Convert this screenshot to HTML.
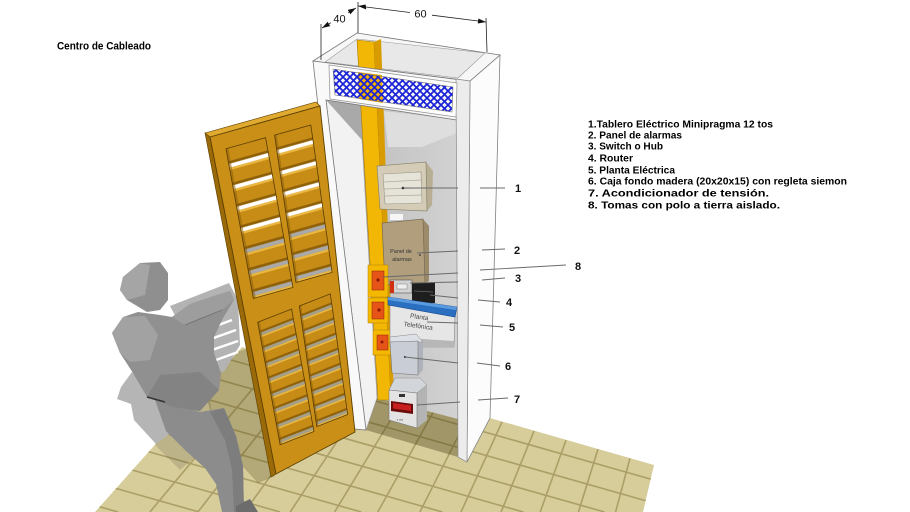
<!DOCTYPE html>
<html><head><meta charset="utf-8"><style>
html,body{margin:0;padding:0;background:#fff;width:910px;height:512px;overflow:hidden;}
svg{display:block;}
</style></head><body>
<svg width="910" height="512" viewBox="0 0 910 512" xmlns="http://www.w3.org/2000/svg" overflow="hidden">
<defs>
<clipPath id="fc"><polygon points="95,512 242,347 654,465 643,512"/></clipPath>
<pattern id="lat" width="7" height="7" patternUnits="userSpaceOnUse">
 <path d="M-1,-1 L8,8 M8,-1 L-1,8" stroke="#1a22d8" stroke-width="1.7" fill="none"/>
</pattern>
<pattern id="slU" width="100" height="14.2857" patternUnits="userSpaceOnUse">
 <rect width="100" height="14.2857" fill="#c68c16"/>
 <rect y="8.4" width="100" height="1.8" fill="#8e6008"/>
 <rect y="10.2" width="100" height="2.6" fill="#ffffff"/>
 <rect y="12.8" width="100" height="1.5" fill="#eab740"/>
</pattern>
<pattern id="slUg" width="100" height="14.2857" patternUnits="userSpaceOnUse">
 <rect width="100" height="14.2857" fill="#c68c16"/>
 <rect y="8.4" width="100" height="1.8" fill="#8e6008"/>
 <rect y="10.2" width="100" height="2.6" fill="#a9a9a9"/>
 <rect y="12.8" width="100" height="1.5" fill="#eab740"/>
</pattern>
<pattern id="slL" width="100" height="12.5" patternUnits="userSpaceOnUse">
 <rect width="100" height="12.5" fill="#c68c16"/>
 <rect y="7" width="100" height="1.8" fill="#8e6008"/>
 <rect y="8.8" width="100" height="2.4" fill="#a29f8c"/>
 <rect y="11.2" width="100" height="1.3" fill="#eab740"/>
</pattern>
<linearGradient id="bw" x1="0" y1="0" x2="1" y2="0">
 <stop offset="0" stop-color="#b9b9b9"/><stop offset="1" stop-color="#d2d2d2"/>
</linearGradient>
</defs>

<!-- FLOOR -->
<g clip-path="url(#fc)">
 <rect x="0" y="300" width="910" height="212" fill="#d7cd9b"/>
 <g stroke="#ab9e66" stroke-width="1.6">
  <line x1="278" y1="358.3" x2="149.9" y2="512"/>
  <line x1="310" y1="367.4" x2="197.9" y2="512"/>
  <line x1="342" y1="376.5" x2="244.6" y2="512"/>
  <line x1="374" y1="385.6" x2="290.2" y2="512"/>
  <line x1="406" y1="394.7" x2="334.6" y2="512"/>
  <line x1="438" y1="403.7" x2="377.8" y2="512"/>
  <line x1="470" y1="412.8" x2="419.9" y2="512"/>
  <line x1="502" y1="421.9" x2="461.0" y2="512"/>
  <line x1="534" y1="431.0" x2="501.1" y2="512"/>
  <line x1="566" y1="440.1" x2="540.2" y2="512"/>
  <line x1="598" y1="449.1" x2="578.4" y2="512"/>
  <line x1="630" y1="458.2" x2="615.6" y2="512"/>
  <line x1="80" y1="317.2" x2="700" y2="493.1"/>
  <line x1="80" y1="340.2" x2="685.6" y2="512"/>
  <line x1="80" y1="363.2" x2="604.5" y2="512"/>
  <line x1="80" y1="386.2" x2="523.4" y2="512"/>
  <line x1="80" y1="409.2" x2="442.4" y2="512"/>
  <line x1="80" y1="432.2" x2="361.3" y2="512"/>
  <line x1="80" y1="455.2" x2="280.2" y2="512"/>
  <line x1="80" y1="478.2" x2="199.1" y2="512"/>
  <line x1="80" y1="501.2" x2="118.1" y2="512"/>
 </g>
 <polygon points="200,372 242,350 262,345 275,476 258,483 218,440" fill="rgba(70,60,10,0.25)"/>
 <polygon points="150,440 180,410 210,400 215,440 180,470" fill="rgba(0,0,0,0.12)"/>
 <polygon points="360,398 377,398 458,418 458,457 366,430" fill="rgba(60,50,10,0.35)"/>
</g>

<!-- shadows on white -->
<polygon points="132,372 121,387 117,399 131,404 134,420 156,444 175,430 160,390" fill="#b5b5b5"/>
<polygon points="170,306 229,283 238,300 240,345 224,372 212,370 200,340 180,325" fill="#b3b3b3"/>
<g stroke="#ffffff" stroke-width="2.5">
 <line x1="205" y1="330" x2="232" y2="320"/>
 <line x1="208" y1="340" x2="236" y2="330"/>
 <line x1="212" y1="350" x2="238" y2="341"/>
 <line x1="216" y1="360" x2="238" y2="352"/>
</g>

<!-- CABINET -->
<polygon points="470,81 500,55 490,418 467,462" fill="#fcfcfc" stroke="#808080" stroke-width="0.8"/>
<polygon points="313,61 357,33 500,55 470,81" fill="#f7f7f7" stroke="#777" stroke-width="0.8"/>
<polygon points="325,62 357,39 485,53 458,78" fill="#e8e8e8" stroke="#999" stroke-width="0.6"/>
<polygon points="326,100 457,120 458,419 377,398" fill="url(#bw)"/>
<polygon points="384,111 457,120 457,133 422,147 388,147" fill="#dedede"/>
<polygon points="326,100 360,105 377,398 366,430" fill="#f2f2f2" stroke="#999" stroke-width="0.6"/>
<polygon points="326,100 361,105 362,140" fill="#a9a9a9"/>
<polygon points="357,40 374,42 391,400 378,400" fill="#f2b705" stroke="#a87800" stroke-width="0.6"/>
<polygon points="374,42 381,39 394,398 391,400" fill="#d99c00"/>
<polygon points="313,61 457,79.5 457,120 326,100 366,430 354,429" fill="#f9f9f9" stroke="#777" stroke-width="0.8"/>
<polygon points="456,79 470,81 467,462 458,457" fill="#ececec" stroke="#888" stroke-width="0.7"/>
<polygon points="329,65 457,83 456,117 330,99" fill="#fff" stroke="#999" stroke-width="0.8"/>
<polygon points="333,69 453,87 452,112 335,95" fill="#f4f4f4"/>
<polygon points="358,72 382,75 383,103 359,99" fill="#f0b000"/>
<polygon points="333,69 453,87 452,112 335,95" fill="url(#lat)" stroke="#777" stroke-width="0.6"/>

<!-- EQUIPMENT -->
<polygon points="426,162 433,171 432,205 427,211" fill="#b8ae94"/>
<polygon points="377,166 426,162 427,211 380,209" fill="#d4ccb6" stroke="#8a8470" stroke-width="0.7"/>
<polygon points="383,174 421,172 422,203 385,204" fill="#e6e3d8" stroke="#9a9484" stroke-width="0.6"/>
<g stroke="#b0aa98" stroke-width="0.7"><line x1="384" y1="182" x2="421" y2="180"/><line x1="384" y1="189" x2="421" y2="188"/><line x1="385" y1="196" x2="422" y2="195"/></g>
<circle cx="403" cy="188" r="1.3" fill="#222"/>
<rect x="390" y="214" width="13" height="6" fill="#f6f6f6"/>
<polygon points="423,219 429,226 429,281 425,283" fill="#9c8b6a"/>
<polygon points="382,223 423,219 425,283 385,285" fill="#b09e7d" stroke="#776a50" stroke-width="0.7"/>
<text x="401" y="253" font-family="Liberation Sans, sans-serif" font-size="5.5" fill="#333" text-anchor="middle">Panel de</text>
<text x="402" y="261" font-family="Liberation Sans, sans-serif" font-size="5.5" fill="#333" text-anchor="middle">alarmas</text>
<circle cx="420" cy="255" r="0.9" fill="#333"/>
<rect x="368" y="265" width="20" height="32" fill="#f5b800" stroke="#b08000" stroke-width="0.5"/>
<rect x="372" y="271" width="12" height="19" fill="#e65418" stroke="#902000" stroke-width="0.5"/>
<rect x="368" y="298" width="20" height="25" fill="#f5b800" stroke="#b08000" stroke-width="0.5"/>
<rect x="372" y="302" width="12" height="17" fill="#e65418" stroke="#902000" stroke-width="0.5"/>
<rect x="373" y="330" width="19" height="25" fill="#f5b800" stroke="#b08000" stroke-width="0.5"/>
<rect x="377" y="335" width="11" height="15" fill="#e65418" stroke="#902000" stroke-width="0.5"/>
<g fill="#8a1a00"><circle cx="378" cy="280" r="1.6"/><circle cx="379" cy="310" r="1.6"/><circle cx="382" cy="342" r="1.5"/></g>
<rect x="390" y="280" width="22" height="13" fill="#d2d2d2" stroke="#555" stroke-width="0.6"/>
<rect x="390" y="281" width="4" height="12" fill="#d03010"/>
<rect x="397" y="284" width="10" height="5" fill="#eee" stroke="#666" stroke-width="0.4"/>
<rect x="412" y="283" width="23" height="20" fill="#1e1e1e"/>
<line x1="414" y1="291" x2="433" y2="292" stroke="#666" stroke-width="0.7"/>
<polygon points="390,305 455,317 454,347 390,347" fill="#e6e6e6" stroke="#888" stroke-width="0.6"/>
<polygon points="390,337 454,341 454,347 390,347" fill="#b7b7b7"/>
<polygon points="388,297 457,307 455,317 388,305" fill="#2a6fc0" stroke="#174a90" stroke-width="0.6"/>
<polygon points="388,297 457,307 456,310 388,300" fill="#5a9be0"/>
<text x="419" y="319" font-family="Liberation Sans, sans-serif" font-size="6.5" fill="#444" text-anchor="middle" transform="rotate(8 419 319)">Planta</text>
<text x="418" y="328" font-family="Liberation Sans, sans-serif" font-size="6.5" fill="#444" text-anchor="middle" transform="rotate(8 418 328)">Telefónica</text>
<polygon points="418,341 423,343 423,370 418,375" fill="#aeb2ba"/>
<polygon points="390,337 416,334 423,342 390,342" fill="#dde0e6" stroke="#888" stroke-width="0.5"/>
<polygon points="390,342 418,341 418,375 392,373" fill="#c9cdd5" stroke="#777" stroke-width="0.6"/>
<circle cx="405" cy="357" r="1" fill="#222"/>
<polygon points="417,393 427,385 427,420 417,428" fill="#b4b4b4"/>
<polygon points="389,390 395,378 420,378 427,385 417,393" fill="#d2d5d9" stroke="#888" stroke-width="0.5"/>
<polygon points="389,390 417,393 417,428 389,420" fill="#e3e3e3" stroke="#777" stroke-width="0.6"/>
<rect x="399" y="394" width="6" height="3" fill="#333"/>
<polygon points="391,401 413,404 413,414 391,411" fill="#6a0c0c"/>
<polygon points="393,403 411,405.5 411,411 393,408.5" fill="#c82020"/>
<text x="397" y="421" font-family="Liberation Sans, sans-serif" font-size="3.5" fill="#333">▪ ▪▪▪</text>

<!-- leader lines -->
<g stroke="#6a6a6a" stroke-width="0.9">
 <line x1="403" y1="188" x2="458" y2="188"/><line x1="480" y1="188" x2="505" y2="188"/>
 <line x1="417" y1="253" x2="458" y2="251"/><line x1="482" y1="250" x2="505" y2="249"/>
 <line x1="383" y1="277" x2="458" y2="273"/><line x1="480" y1="270" x2="566" y2="265"/>
 <line x1="410" y1="283" x2="458" y2="282"/><line x1="482" y1="280" x2="505" y2="278"/>
 <line x1="430" y1="295" x2="458" y2="298"/><line x1="478" y1="300" x2="500" y2="302"/>
 <line x1="427" y1="322" x2="458" y2="323"/><line x1="480" y1="325" x2="503" y2="327"/>
 <line x1="405" y1="357" x2="458" y2="363"/><line x1="477" y1="363" x2="500" y2="366"/>
 <line x1="417" y1="405" x2="460" y2="402"/><line x1="478" y1="400" x2="508" y2="398"/>
</g>
<g font-family="Liberation Sans, DejaVu Sans, sans-serif" font-weight="bold" font-size="11" fill="#111" text-anchor="middle">
 <text x="518" y="192">1</text>
 <text x="517" y="254">2</text>
 <text x="518" y="282">3</text>
 <text x="509" y="306">4</text>
 <text x="512" y="331">5</text>
 <text x="508" y="370">6</text>
 <text x="517" y="403">7</text>
 <text x="578" y="270">8</text>
</g>

<!-- DOOR -->
<polygon points="205,133 210,137 276,474 271,477" fill="#9a6a08" stroke="#5c3f00" stroke-width="0.6"/>
<polygon points="205,133 316,102 320,106 210,137" fill="#e0aa30" stroke="#5c3f00" stroke-width="0.6"/>
<polygon points="210,137 320,106 355,432 276,474" fill="#c98f17" stroke="#5c3f00" stroke-width="0.9"/>
<g transform="matrix(0.3958,-0.111,0.2737,1.4969,225.98,148.76)">
 <rect width="100" height="57.14" fill="url(#slU)"/>
 <rect y="57.14" width="100" height="42.86" fill="url(#slUg)"/>
 <rect width="6" height="100" fill="#8a5c06" opacity="0.5"/>
 <rect width="100" height="100" fill="none" stroke="#5a3c00" stroke-width="0.8" vector-effect="non-scaling-stroke"/>
</g>
<g transform="matrix(0.3618,-0.1015,0.2131,1.4742,274.61,135.12)">
 <rect width="100" height="57.14" fill="url(#slU)"/>
 <rect y="57.14" width="100" height="42.86" fill="url(#slUg)"/>
 <rect width="6" height="100" fill="#8a5c06" opacity="0.5"/>
 <rect width="100" height="100" fill="none" stroke="#5a3c00" stroke-width="0.8" vector-effect="non-scaling-stroke"/>
</g>
<g transform="matrix(0.3387,-0.1324,0.224,1.2248,257.7,322.26)">
 <rect width="100" height="100" fill="url(#slL)"/>
 <rect width="6" height="100" fill="#8a5c06" opacity="0.5"/>
 <rect width="100" height="100" fill="none" stroke="#5a3c00" stroke-width="0.8" vector-effect="non-scaling-stroke"/>
</g>
<g transform="matrix(0.3096,-0.1211,0.1744,1.2062,299.31,305.99)">
 <rect width="100" height="100" fill="url(#slL)"/>
 <rect width="6" height="100" fill="#8a5c06" opacity="0.5"/>
 <rect width="100" height="100" fill="none" stroke="#5a3c00" stroke-width="0.8" vector-effect="non-scaling-stroke"/>
</g>

<!-- PERSON -->
<polygon points="155,400 200,412 224,408 236,436 243,466 244,512 222,512 216,484 205,468 186,451 166,431" fill="#8c8c8c"/>
<polygon points="224,408 236,436 243,466 244,512 234,512 232,470 225,440 210,412" fill="#7d7d7d"/>
<polygon points="236,506 250,499 258,512 236,512" fill="#6c6c6c"/>
<polygon points="112,333 123,317 138,312 160,315 172,317 190,304 217,295 230,291 234,300 223,318 214,337 214,353 221,373 219,390 200,411 173,407 147,397 133,373 120,353" fill="#909090"/>
<polygon points="112,333 123,317 145,316 158,335 150,360 130,362 120,353" fill="#a2a2a2"/>
<polygon points="147,397 160,375 200,372 219,390 200,411 173,407" fill="#838383"/>
<polygon points="172,317 190,304 217,295 230,291 234,300 222,310 200,318 185,325" fill="#9d9d9d"/>
<line x1="185" y1="325" x2="222" y2="310" stroke="#707070" stroke-width="0.8"/>
<line x1="147" y1="397" x2="165" y2="402" stroke="#333" stroke-width="1.5"/>
<polygon points="123,277 140,263 160,262 168,273 168,300 160,310 147,312 127,300 120,290" fill="#8f8f8f"/>
<polygon points="123,277 140,263 150,265 145,295 127,300 120,290" fill="#a5a5a5"/>

<!-- DIMENSIONS -->
<g stroke="#222" stroke-width="0.8">
 <line x1="358" y1="2" x2="358" y2="33"/>
 <line x1="486" y1="18" x2="487" y2="52"/>
 <line x1="321" y1="24" x2="321" y2="60"/>
 <line x1="358" y1="6" x2="410" y2="12.5"/>
 <line x1="432" y1="15.2" x2="486" y2="22"/>
 <line x1="322" y1="28" x2="331" y2="22.7"/>
 <line x1="348" y1="12.7" x2="356" y2="8"/>
</g>
<g fill="#111">
 <polygon points="358,6 365.6,4.5 366.2,9.5"/>
 <polygon points="486,22 478.4,18.5 477.8,23.5"/>
 <polygon points="322,28 330.2,26.1 327.6,21.7"/>
 <polygon points="356,8 350.4,14.3 347.8,9.9"/>
</g>
<g font-family="Liberation Sans, DejaVu Sans, sans-serif" font-size="11" fill="#111" text-anchor="middle">
 <text x="339.5" y="22.5">40</text>
 <text x="420.5" y="17.5">60</text>
</g>

<!-- TEXTS -->
<text x="57" y="49.5" font-family="Liberation Sans, DejaVu Sans, sans-serif" font-weight="bold" font-size="11" fill="#000" textLength="94" lengthAdjust="spacingAndGlyphs">Centro de Cableado</text>
<g font-family="Liberation Sans, DejaVu Sans, sans-serif" font-weight="bold" font-size="10.5" fill="#000">
 <text x="588" y="127.3" textLength="185" lengthAdjust="spacingAndGlyphs">1.Tablero Eléctrico Minipragma 12 tos</text>
 <text x="588" y="138.3" textLength="94" lengthAdjust="spacingAndGlyphs">2. Panel de alarmas</text>
 <text x="588" y="149.7" textLength="75" lengthAdjust="spacingAndGlyphs">3. Switch o Hub</text>
 <text x="588" y="161.3" textLength="45" lengthAdjust="spacingAndGlyphs">4. Router</text>
 <text x="588" y="173.3" textLength="87" lengthAdjust="spacingAndGlyphs">5. Planta Eléctrica</text>
 <text x="588" y="184.7" textLength="259" lengthAdjust="spacingAndGlyphs">6. Caja fondo madera (20x20x15) con regleta siemon</text>
 <text x="588" y="196.7" textLength="181" lengthAdjust="spacingAndGlyphs">7. Acondicionador de tensión.</text>
 <text x="588" y="208.3" textLength="192" lengthAdjust="spacingAndGlyphs">8. Tomas con polo a tierra aislado.</text>
</g>
</svg>
</body></html>
